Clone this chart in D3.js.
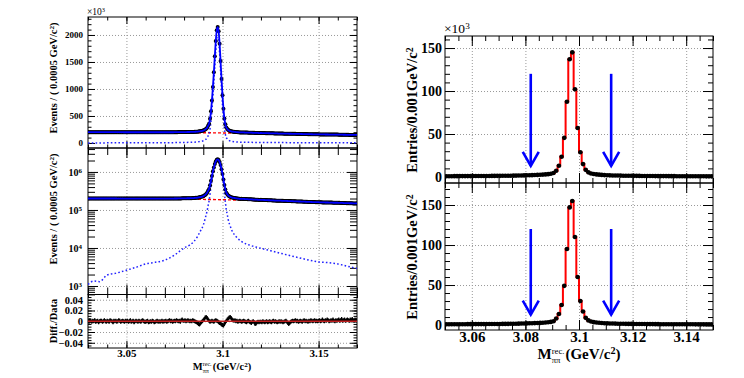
<!DOCTYPE html>
<html>
<head>
<script src="https://d3js.org/d3.v7.min.js" charset="utf-8"></script>
<style>
  body { margin: 0; background: #fff; }
  svg { display: block; font-family: "Liberation Serif", serif; }
  .grid line { stroke: #999; stroke-dasharray: 1,2; }
</style>
</head>
<body>
<svg width="744" height="378"></svg>
<script>
// ---------- data (counts in thousands) ----------
// left: fit to M(rec) spectrum, 0.0005 GeV bins from 3.030 to 3.170
var leftMass = d3.range(281).map(function(i) { return 3.03 + i * 0.0005; });
var leftData = [
  200,200,200,200,200,200,200,200,200,200,200,200,200,200,200,200,200,200,200,200,
  200,200,200,200,200,200,200,200,200,200,200,199,200,199,200,199,200,199,199,199,
  199,199,199,199,199,199,199,199,199,199,199,199,199,199,199,199,199,199,199,199,
  199,199,199,199,199,199,199,199,199,199,199,199,199,199,199,199,199,199,199,199,
  199,199,199,199,199,199,199,199,199,199,200,200,200,200,201,201,201,201,202,202,
  202,202.5,202.5,203,203,203,203.5,204,204.5,205,205.5,207,208,209,210,213,215,218,221,225,
  230,239,249,264,284,319,358,448,588,788,1038,1308,1607,1887,2087,2147,2067,1837,1517,1186,
  886,636,455,345,285,259,239,229,222,216,212,209,207,205,202,201,199,198,196,195,
  196,195,195,194,193,193,192,191,191,190,190,189,188,188,187,186,186,185,184,184,
  185,184,184,183,183,182,182,181,180,180,179,179,178,178,177,177,176,176,175,175,
  175,175,174,174,173,173,173,172,172,171,171,171,170,170,169,169,169,168,168,167,
  167,167,166,166,165,165,165,164,164,163,163,163,162,162,161,161,161,160,160,160,
  160,159,159,159,158,158,158,157,157,157,157,156,156,156,156,155,155,155,155,155,
  155,154,154,153,153,153,152,152,152,151,151,151,150,150,150,150,149,149,149,149,
  149
];
var bkgMass = [3.03,3.04,3.05,3.06,3.07,3.08,3.09,3.10,3.11,3.12,3.13,3.14,3.15,3.16,3.17];
var bkgVals = [199,198,197,195.5,194,192,189.5,186,181,175,168,162,156,151,146];
var sigMass = [3.030,3.033,3.036,3.040,3.045,3.050,3.055,3.060,3.065,3.070,
               3.075,3.080,3.083,3.085,3.087,3.088,3.089,3.090,3.091,3.092,
               3.0925,3.093,3.0935,3.094,3.0945,3.095,3.0955,3.096,3.0965,3.097,
               3.0975,3.098,3.0985,3.099,3.0995,3.100,3.1005,3.101,3.1015,3.102,
               3.1025,3.103,3.104,3.105,3.107,3.110,3.115,3.120,3.125,3.130,
               3.135,3.140,3.145,3.150,3.155,3.160,3.165,3.170];
var sigVals = [1.1,1.35,1.3,1.95,2.2,2.6,3.1,3.8,4.2,4.8,
               6.5,10,12,14.6,20,25,31,40,60,95,
               130,170,260,400,600,850,1120,1420,1700,1900,
               1960,1880,1650,1330,1000,700,450,270,160,100,
               75,55,38,28,20,14.7,11.5,9.8,8.5,7.3,
               6.3,5.5,4.8,4.3,4.1,3.8,3.3,2.9];
// (fit - data)/data in units of 1e-3, same bins as leftData
var residVals = [
  1,-1,2,0,-1,1,0,2,-1,0,1,-2,0,1,1,-1,0,2,0,-1,
  1,0,-1,2,1,0,-2,1,0,1,-1,0,2,1,-1,0,1,0,-1,1,
  0,1,-1,0,2,-1,0,1,-2,0,1,0,-1,1,0,-1,1,2,0,-1,
  -1,0,1,-2,-1,0,-1,1,0,-2,-1,0,1,-1,0,-1,0,1,-1,0,
  0,1,-1,0,1,2,0,1,-1,0,1,0,2,1,0,1,-1,2,3,1,
  1,2,0,1,2,1,0,1,0,2,1,0,-1,-2,-3,-5,-6,-4,-2,0,
  2,4,7,8,6,3,1,-1,0,1,0,-1,1,2,1,0,-2,-3,-4,-6,
  -7,-8,-5,-2,1,3,5,7,8,6,3,2,1,2,0,1,-1,0,1,0,
  -1,0,1,0,-1,-2,0,1,-1,-2,-3,-1,0,-2,-5,-4,-2,-1,-2,-1,
  -1,-2,0,-1,-2,-1,0,-2,-1,0,-1,-2,0,1,-1,0,-1,-2,-1,0,
  -1,0,-1,-2,-1,0,1,-1,-3,-5,-3,-1,0,1,0,1,2,0,1,-1,
  0,1,0,-1,1,2,0,1,0,-1,1,0,2,1,0,1,2,0,1,0,
  1,2,0,1,3,1,0,2,1,3,2,0,1,2,1,3,1,0,2,1,
  2,3,1,2,4,1,2,3,1,2,3,2,1,3,2,4,2,1,3,2,
  2
];

// right: 0.001 GeV bins from 3.050 to 3.150, bin centres
var rightMass = d3.range(100).map(function(i) { return 3.0505 + i * 0.001; });
var rightTop = [
  0.9,0.9,0.9,0.95,0.95,1.0,1.0,1.0,1.05,1.05,
  1.1,1.1,1.1,1.15,1.15,1.2,1.2,1.25,1.25,1.3,
  1.3,1.35,1.4,1.45,1.5,1.55,1.6,1.7,1.75,1.85,
  1.95,2.05,2.15,2.3,2.45,2.6,2.8,3.0,3.3,3.8,
  4.6,7.2,13,23.5,45.5,87.5,137,145,102,57,
  28.7,15,8.3,5.4,4.1,3.4,3.0,2.7,2.4,2.2,
  2.0,1.9,1.8,1.7,1.65,1.6,1.5,1.45,1.4,1.35,
  1.3,1.3,1.25,1.2,1.2,1.15,1.1,1.1,1.05,1.05,
  1.0,1.0,1.0,0.95,0.95,0.95,0.9,0.9,0.9,0.9,
  0.85,0.85,0.85,0.8,0.8,0.8,0.8,0.75,0.75,0.75
];
var rightBot = [
  0.95,0.95,0.95,1.0,1.0,1.05,1.05,1.05,1.1,1.1,
  1.15,1.15,1.15,1.2,1.2,1.25,1.25,1.3,1.3,1.35,
  1.35,1.4,1.45,1.5,1.55,1.6,1.7,1.75,1.85,1.95,
  2.05,2.15,2.25,2.4,2.55,2.7,2.9,3.1,3.4,3.9,
  4.8,8.2,13.8,25,49,95,147,155,110,60,
  30,17,9,5.8,4.4,3.6,3.1,2.8,2.5,2.3,
  2.1,2.0,1.9,1.8,1.7,1.65,1.6,1.5,1.45,1.4,
  1.35,1.35,1.3,1.25,1.25,1.2,1.15,1.15,1.1,1.1,
  1.05,1.05,1.05,1.0,1.0,1.0,0.95,0.95,0.95,0.95,
  0.9,0.9,0.9,0.85,0.85,0.85,0.85,0.8,0.8,0.8
];
var cutMass = [3.082, 3.112];
var cutFrom = 120, cutTo = 13;

// ---------- scales ----------
var svg = d3.select("svg");
var defs = svg.append("defs");
svg.append("rect").attr("width", 744).attr("height", 378).attr("fill", "#fff");

var xL = d3.scaleLinear().domain([3.03, 3.17]).range([88, 357]);
var yTop = d3.scaleLinear().domain([-93, 2333]).range([148, 17]);
var yLog = d3.scaleLog().domain([Math.pow(10, -0.224), Math.pow(10, 3.63)]).range([294.5, 148]);
var yRes = d3.scaleLinear().domain([-0.0497, 0.0497]).range([348, 294.5]);

var xR = d3.scaleLinear().domain([3.05, 3.15]).range([445, 713]);
var yRT = d3.scaleLinear().domain([-7, 164]).range([183, 36]);
var yRB = d3.scaleLinear().domain([-6.2, 177.5]).range([330, 183]);

function fmtMass(d) { return String(+d.toFixed(2)); }
function fmtLog(d) { return "10^" + (Math.round(Math.log10(d)) + 3); }

// ---------- helpers ----------
function addAxis(g, axis, tx, ty, vals, size, fmt, fs, pad) {
  var a = g.append("g").attr("transform", "translate(" + tx + "," + ty + ")")
    .call(axis.tickValues(vals).tickSize(size).tickPadding(pad || 3).tickFormat(fmt || ""));
  a.select(".domain").remove();
  a.attr("font-family", "Liberation Serif").attr("font-weight", "bold").attr("font-size", fs || 10);
  a.selectAll("line").attr("stroke", "#000");
  return a;
}

function grid(x, y, xv, yv) {
  var x0 = x.range()[0], x1 = x.range()[1], yT = y.range()[1], yB = y.range()[0];
  var g = svg.append("g");
  g.append("g").attr("class", "grid").attr("transform", "translate(0," + yT + ")")
    .call(d3.axisBottom(x).tickValues(xv).tickSize(yB - yT).tickFormat(""));
  g.append("g").attr("class", "grid").attr("transform", "translate(" + x0 + ",0)")
    .call(d3.axisRight(y).tickValues(yv).tickSize(x1 - x0).tickFormat(""));
  g.selectAll(".domain").remove();
}

function ticks(x, y, o) {
  var x0 = x.range()[0], x1 = x.range()[1], yT = y.range()[1], yB = y.range()[0];
  var g = svg.append("g");
  addAxis(g, d3.axisLeft(y), x0, 0, o.yMin, -o.tm);
  var ay = addAxis(g, d3.axisLeft(y), x0, 0, o.yMaj, -o.tM, o.yFmt, o.fsY, o.padY);
  addAxis(g, d3.axisRight(y), x1, 0, o.yMin, -o.tm);
  addAxis(g, d3.axisRight(y), x1, 0, o.yMaj, -o.tM);
  addAxis(g, d3.axisTop(x), 0, yT, o.xMin, -o.tm);
  addAxis(g, d3.axisTop(x), 0, yT, o.xMaj, -o.tM);
  addAxis(g, d3.axisBottom(x), 0, yB, o.xMin, -o.tm);
  addAxis(g, d3.axisBottom(x), 0, yB, o.xMaj, -o.tM, o.xFmt, o.fsX, o.padX);
  g.append("rect").attr("x", x0).attr("y", yT).attr("width", x1 - x0).attr("height", yB - yT)
    .attr("fill", "none").attr("stroke", "#000").attr("stroke-width", 1);
  return ay;
}

function clipped(id, x, y) {
  defs.append("clipPath").attr("id", id).append("rect")
    .attr("x", x.range()[0]).attr("y", y.range()[1])
    .attr("width", x.range()[1] - x.range()[0]).attr("height", y.range()[0] - y.range()[1]);
  return svg.append("g").attr("clip-path", "url(#" + id + ")");
}

function supText(sel) {
  // turn "a^b" labels into a base + superscript
  sel.each(function() {
    var t = d3.select(this), s = t.text();
    if (s.indexOf("^") < 0) return;
    var p = s.split("^");
    t.text(null);
    t.append("tspan").text(p[0]);
    t.append("tspan").attr("dy", "-0.45em").attr("font-size", "0.7em").text(p[1]);
  });
}

var xMinL = d3.range(3.03, 3.1701, 0.01);
var xMajL = [3.05, 3.1, 3.15];
var logMinor = [];
[-1, 0, 1, 2, 3].forEach(function(e) {
  d3.range(2, 10).forEach(function(k) { logMinor.push(k * Math.pow(10, e)); });
});
logMinor = logMinor.filter(function(v) { return v > yLog.domain()[0] && v < yLog.domain()[1]; });

// ---------- left: linear pane ----------
grid(xL, yTop, xMajL, [500, 1000, 1500, 2000]);
grid(xL, yLog, xMajL, [1, 10, 100, 1000]);
grid(xL, yRes, xMajL, [-0.04, -0.02, 0, 0.02, 0.04]);

ticks(xL, yTop, {yMaj: [0, 500, 1000, 1500, 2000], yMin: d3.range(0, 2301, 100), xMaj: xMajL, xMin: xMinL,
  tM: 7, tm: 3.5, yFmt: d3.format("d"), fsY: 9, padY: 5});
var aLog = ticks(xL, yLog, {yMaj: [1, 10, 100, 1000], yMin: logMinor, xMaj: xMajL, xMin: xMinL,
  tM: 10, tm: 7, yFmt: fmtLog, fsY: 10, padY: 6});
supText(aLog.selectAll("text"));
ticks(xL, yRes, {yMaj: [-0.04, -0.02, 0, 0.02, 0.04], yMin: d3.range(-0.045, 0.0451, 0.005),
  xMaj: xMajL, xMin: xMinL, tM: 7, tm: 3.5,
  yFmt: function(d) { return d === 0 ? "0" : d3.format(".2f")(d); }, fsY: 10.5, padY: 5,
  xFmt: fmtMass, fsX: 11, padX: 1});

var pts = leftMass.map(function(m, i) { return [m, leftData[i]]; });
var sig = sigMass.map(function(m, i) { return [m, sigVals[i]]; });
var bkg = bkgMass.map(function(m, i) { return [m, bkgVals[i]]; });

function drawFit(g, y, k) {
  var ln = d3.line().x(function(d) { return xL(d[0]); }).y(function(d) { return y(d[1] * k); })
    .curve(d3.curveMonotoneX);
  g.append("path").attr("d", ln(bkg)).attr("fill", "none").attr("stroke", "#ff0000")
    .attr("stroke-width", 1.4).attr("stroke-dasharray", "3,2");
  g.append("path").attr("d", ln(sig)).attr("fill", "none").attr("stroke", "#2222ff")
    .attr("stroke-width", 1.5).attr("stroke-dasharray", "1.6,2.2");
  g.selectAll("circle").data(pts).enter().append("circle")
    .attr("cx", function(d) { return xL(d[0]); }).attr("cy", function(d) { return y(d[1] * k); })
    .attr("r", 2).attr("fill", "#000");
  g.append("path").attr("d", ln(pts)).attr("fill", "none").attr("stroke", "#0000ff")
    .attr("stroke-width", 1.8);
}
drawFit(clipped("cTop", xL, yTop), yTop, 1);
drawFit(clipped("cLog", xL, yLog), yLog, 1);

// residuals
var gRes = clipped("cRes", xL, yRes);
var res = leftMass.map(function(m, i) { return [m, residVals[i] * 0.001]; });
gRes.selectAll("line.err").data(res).enter().append("line").attr("class", "err")
  .attr("x1", function(d) { return xL(d[0]); }).attr("x2", function(d) { return xL(d[0]); })
  .attr("y1", function(d) { return yRes(d[1] - 0.0038); }).attr("y2", function(d) { return yRes(d[1] + 0.0038); })
  .attr("stroke", "#000").attr("stroke-width", 1.3);
gRes.append("path").attr("d", d3.line().x(function(d) { return xL(d[0]); }).y(function(d) { return yRes(d[1]); })(res))
  .attr("fill", "none").attr("stroke", "#000").attr("stroke-width", 2.2);
gRes.append("line").attr("x1", xL(3.03)).attr("x2", xL(3.17)).attr("y1", yRes(0)).attr("y2", yRes(0))
  .attr("stroke", "#c02020").attr("stroke-width", 1.3);

// ---------- right panes ----------
var xMajR = [3.06, 3.08, 3.1, 3.12, 3.14];
var xMinR = d3.range(3.05, 3.1501, 0.005);
grid(xR, yRT, xMajR, [50, 100, 150]);
grid(xR, yRB, xMajR, [50, 100, 150]);
ticks(xR, yRT, {yMaj: [0, 50, 100, 150], yMin: d3.range(0, 161, 10), xMaj: xMajR, xMin: xMinR,
  tM: 10, tm: 5, yFmt: d3.format("d"), fsY: 14, padY: 3});
ticks(xR, yRB, {yMaj: [0, 50, 100, 150], yMin: d3.range(0, 171, 10), xMaj: xMajR, xMin: xMinR,
  tM: 10, tm: 5, yFmt: d3.format("d"), fsY: 14, padY: 3, xFmt: fmtMass, fsX: 15, padX: 1});

function drawHist(id, y, vals) {
  var g = clipped(id, xR, y);
  var h = rightMass.map(function(m, i) { return [m, vals[i]]; });
  g.append("path")
    .attr("d", d3.line().x(function(d) { return xR(d[0]); }).y(function(d) { return y(d[1]); }).curve(d3.curveStep)(h))
    .attr("fill", "none").attr("stroke", "#ff0000").attr("stroke-width", 2);
  g.selectAll("circle").data(h).enter().append("circle")
    .attr("cx", function(d) { return xR(d[0]); }).attr("cy", function(d) { return y(d[1]); })
    .attr("r", 2.3).attr("fill", "#000");
  cutMass.forEach(function(m) {
    var x = xR(m), yt = y(cutTo);
    g.append("line").attr("x1", x).attr("x2", x).attr("y1", y(cutFrom)).attr("y2", yt)
      .attr("stroke", "#0000ff").attr("stroke-width", 2.6);
    g.append("path").attr("d", "M" + (x - 8) + "," + (yt - 14) + "L" + x + "," + yt + "L" + (x + 8) + "," + (yt - 14))
      .attr("fill", "none").attr("stroke", "#0000ff").attr("stroke-width", 2.6);
  });
}
drawHist("cRT", yRT, rightTop);
drawHist("cRB", yRB, rightBot);

// ---------- titles ----------
function label(x, y, fs, parts, rot, anchor) {
  var t = svg.append("text").attr("font-size", fs).attr("font-weight", "bold")
    .attr("text-anchor", anchor || "middle")
    .attr("transform", "translate(" + x + "," + y + ")" + (rot ? " rotate(-90)" : ""));
  parts.forEach(function(p) {
    var s = t.append("tspan").text(p[0]);
    if (p[1] === "sup") s.attr("dy", "-0.45em").attr("font-size", "0.68em");
    if (p[1] === "down") s.attr("dy", "0.306em");
  });
  return t;
}
label(57, 78, 10.5, [["Events / ( 0.0005 GeV/c"], ["2", "sup"], [")", "down"]], true);
label(57, 209, 10.5, [["Events / ( 0.0005 GeV/c"], ["2", "sup"], [")", "down"]], true);
label(57, 321, 10.5, [["Diff./Data"]], true);
label(417, 110, 14.5, [["Entries/0.001GeV/c"], ["2", "sup"]], true);
label(417, 257, 14.5, [["Entries/0.001GeV/c"], ["2", "sup"]], true);

function expLabel(x, y, fs) {
  var t = svg.append("text").attr("x", x).attr("y", y).attr("font-size", fs);
  t.append("tspan").text("\u00d710");
  t.append("tspan").attr("dy", "-0.45em").attr("font-size", "0.68em").text("3");
}
expLabel(87, 15, 9.5);
expLabel(444, 33, 13.5);

function massTitle(cx, by, fs) {
  var g = svg.append("g").attr("font-weight", "bold").attr("font-size", fs);
  var m = g.append("text").attr("y", by).text("M");
  var wm = m.node().getComputedTextLength();
  var sp = g.append("text").attr("x", wm).attr("y", by - fs * 0.36).attr("font-size", fs * 0.58)
    .attr("font-weight", "normal").text("rec.");
  var sb = g.append("text").attr("x", wm).attr("y", by + fs * 0.24).attr("font-size", fs * 0.58)
    .attr("font-weight", "normal").text("\u03c0\u03c0");
  var ws = Math.max(sp.node().getComputedTextLength(), sb.node().getComputedTextLength());
  var r = g.append("text").attr("x", wm + ws + 1).attr("y", by);
  r.append("tspan").text("(GeV/c");
  r.append("tspan").attr("dy", "-0.45em").attr("font-size", "0.68em").text("2");
  r.append("tspan").attr("dy", "0.306em").text(")");
  var w = wm + ws + 1 + r.node().getComputedTextLength();
  g.attr("transform", "translate(" + (cx - w / 2) + ",0)");
}
massTitle(222, 370, 10.5);
massTitle(579, 359, 15);
</script>
</body>
</html>
